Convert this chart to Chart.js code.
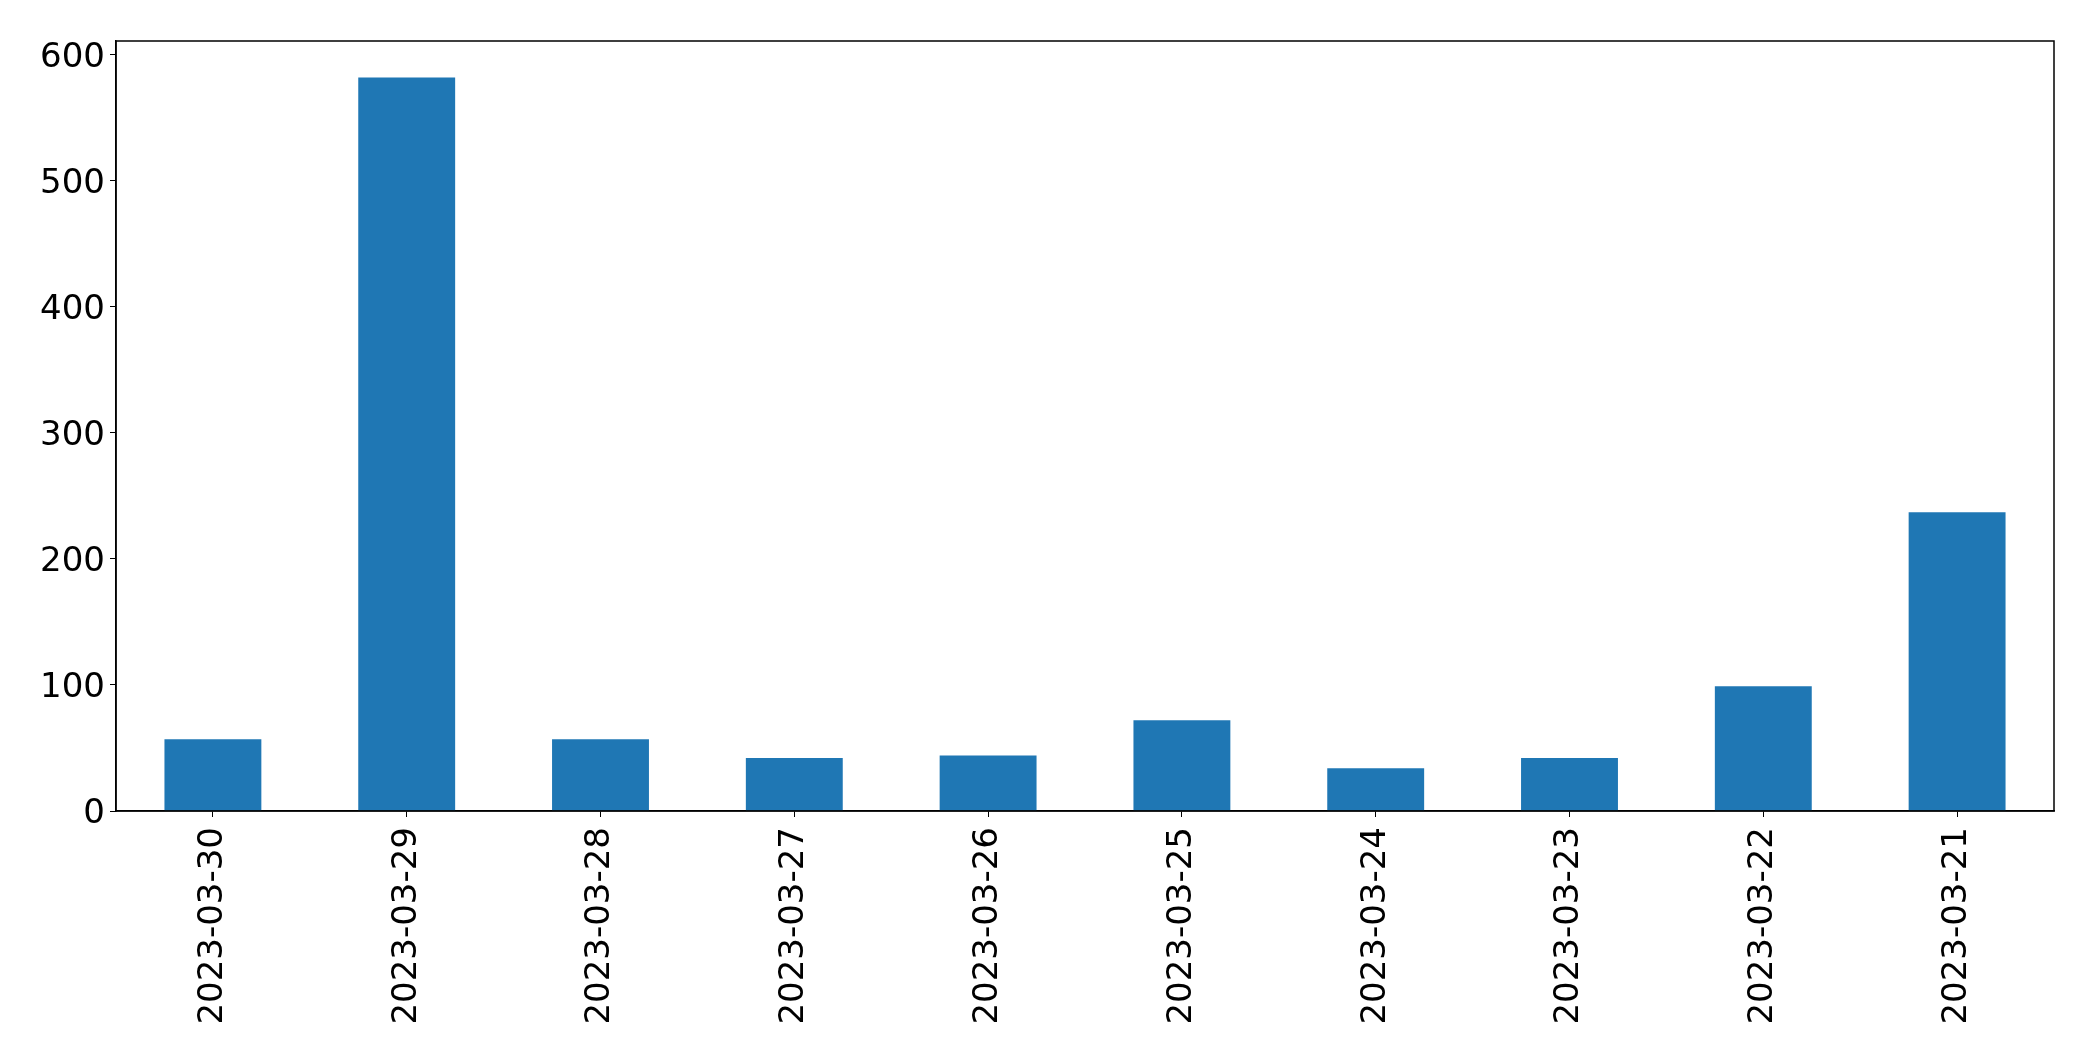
<!DOCTYPE html>
<html>
<head>
<meta charset="utf-8">
<script src="https://cdn.jsdelivr.net/npm/chart.js@4/dist/chart.umd.min.js"></script>
<style>
  html, body { margin: 0; padding: 0; background: #fff; }
  #wrap { width: 2093px; height: 1063px; position: relative; }
</style>
</head>
<body>
<div id="wrap"><canvas id="myChart"></canvas></div>
<script>
// data
var dates = ['2023-03-30', '2023-03-29', '2023-03-28', '2023-03-27', '2023-03-26',
             '2023-03-25', '2023-03-24', '2023-03-23', '2023-03-22', '2023-03-21'];
var counts = [57, 582, 57, 42, 44, 72, 34, 42, 99, 237];
var yTicks = [0, 100, 200, 300, 400, 500, 600];
var yMax = 611;

// box round the plot area (matplotlib style spines)
var frame = {
    id: 'frame',
    afterDraw: function(chart) {
        var a = chart.chartArea, c = chart.ctx;
        c.save();
        c.strokeStyle = '#000';
        c.lineWidth = 1.5;
        c.strokeRect(a.left, a.top, a.right - a.left, a.bottom - a.top);
        c.restore();
    }
};

var ctx = document.getElementById('myChart').getContext('2d');
var chart = new Chart(ctx, {
    type: 'bar',
    data: {
        labels: dates,
        datasets: [{
            data: counts,
            backgroundColor: '#1f77b4',
            borderWidth: 0,
            categoryPercentage: 1.0,
            barPercentage: 0.5
        }]
    },
    options: {
        responsive: true,
        maintainAspectRatio: false,
        animation: false,
        layout: { padding: { top: 41, right: 39, left: 0, bottom: 0 } },
        plugins: {
            legend: { display: false },
            tooltip: { enabled: false }
        },
        scales: {
            x: {
                grid: { offset: false, drawOnChartArea: false, drawTicks: true, tickLength: 6, tickColor: '#000' },
                border: { color: '#000', width: 1.5 },
                ticks: {
                    color: '#000',
                    font: { family: 'DejaVu Sans', size: 34 },
                    minRotation: 90,
                    maxRotation: 90,
                    padding: 10,
                    autoSkip: false
                },
                afterFit: function(scale) { scale.height = 252; }
            },
            y: {
                min: 0,
                max: yMax,
                grid: { drawOnChartArea: false, drawTicks: true, tickLength: 6, tickColor: '#000' },
                border: { color: '#000', width: 1.5 },
                ticks: {
                    color: '#000',
                    font: { family: 'DejaVu Sans', size: 34 },
                    padding: 5,
                    labelOffset: 3,
                    includeBounds: false
                },
                afterBuildTicks: function(axis) {
                    axis.ticks = yTicks.map(function(v) { return { value: v }; });
                },
                afterFit: function(scale) { scale.width = 116; }
            }
        }
    },
    plugins: [frame]
});
</script>
</body>
</html>
